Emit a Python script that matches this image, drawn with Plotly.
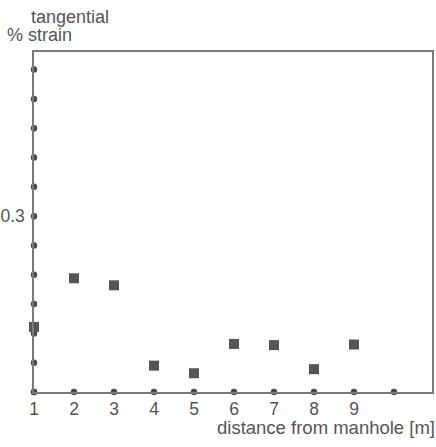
import plotly.graph_objects as go

# data
distance_m = [1, 2, 3, 4, 5, 6, 7, 8, 9]
tangential_strain_pct = [0.111, 0.194, 0.182, 0.045, 0.032, 0.082, 0.080, 0.039, 0.081]

x_axis_dots = [1, 2, 3, 4, 5, 6, 7, 8, 9, 10]
y_axis_dots = [0.0, 0.05, 0.10, 0.15, 0.20, 0.25, 0.30, 0.35, 0.40, 0.45, 0.50, 0.55]

x_tick_vals = [1, 2, 3, 4, 5, 6, 7, 8, 9]
x_tick_text = ["1", "2", "3", "4", "5", "6", "7", "8", "9"]
y_tick_vals = [0.3]
y_tick_text = ["0.3"]

W, H = 436, 447
L, R, T, B = 34, 4, 52, 55
pw, ph = W - L - R, H - T - B

def px_x(px):
    return (px - L) / pw

def px_y(py):
    return (H - B - py) / ph

FONT = "Liberation Sans, Arial, sans-serif"
TXT = "#555555"
AX = "#7a7a7a"
MK = "#4a4a4a"

fig = go.Figure()
fig.add_trace(go.Scatter(
    x=x_axis_dots, y=[0] * len(x_axis_dots), mode="markers",
    marker=dict(size=6.5, color=MK), cliponaxis=False, showlegend=False, hoverinfo="skip"))
fig.add_trace(go.Scatter(
    x=[1] * len(y_axis_dots), y=y_axis_dots, mode="markers",
    marker=dict(size=6.5, color=MK), cliponaxis=False, showlegend=False, hoverinfo="skip"))
fig.add_trace(go.Scatter(
    x=distance_m, y=tangential_strain_pct, mode="markers",
    marker=dict(symbol="square", size=10, color="#555555"),
    cliponaxis=False, showlegend=False))

fig.update_layout(
    width=W, height=H,
    margin=dict(l=L, r=R, t=T, b=B, pad=0, autoexpand=False),
    paper_bgcolor="white", plot_bgcolor="white",
    font=dict(family=FONT, size=17.5, color=TXT),
    xaxis=dict(range=[1, 10.95], showgrid=False, zeroline=False, automargin=False,
               showline=True, linecolor=AX, linewidth=1.5, mirror=True,
               tickvals=x_tick_vals, ticktext=x_tick_text, ticks="",
               ticklabelstandoff=0, tickfont=dict(size=17.5, color=TXT)),
    yaxis=dict(range=[0, 0.58], showgrid=False, zeroline=False, automargin=False,
               showline=True, linecolor=AX, linewidth=1.5, mirror=True,
               tickvals=y_tick_vals, ticktext=y_tick_text, ticks="",
               ticklabelstandoff=4, tickfont=dict(size=17.5, color=TXT)),
    annotations=[
        dict(text="tangential", xref="paper", yref="paper", x=px_x(29), y=px_y(17),
             xanchor="left", yanchor="middle", showarrow=False,
             font=dict(size=18, color=TXT, family=FONT)),
        dict(text="% strain", xref="paper", yref="paper", x=px_x(5), y=px_y(35),
             xanchor="left", yanchor="middle", showarrow=False,
             font=dict(size=18, color=TXT, family=FONT)),
        dict(text="distance from manhole [m]", xref="paper", yref="paper",
             x=px_x(437), y=px_y(427), xanchor="right", yanchor="middle",
             showarrow=False, font=dict(size=18.5, color=TXT, family=FONT)),
    ],
)

fig.write_html("out.html", config={"displayModeBar": False},
               post_script="document.body.style.margin='0';document.body.style.overflow='hidden';")
